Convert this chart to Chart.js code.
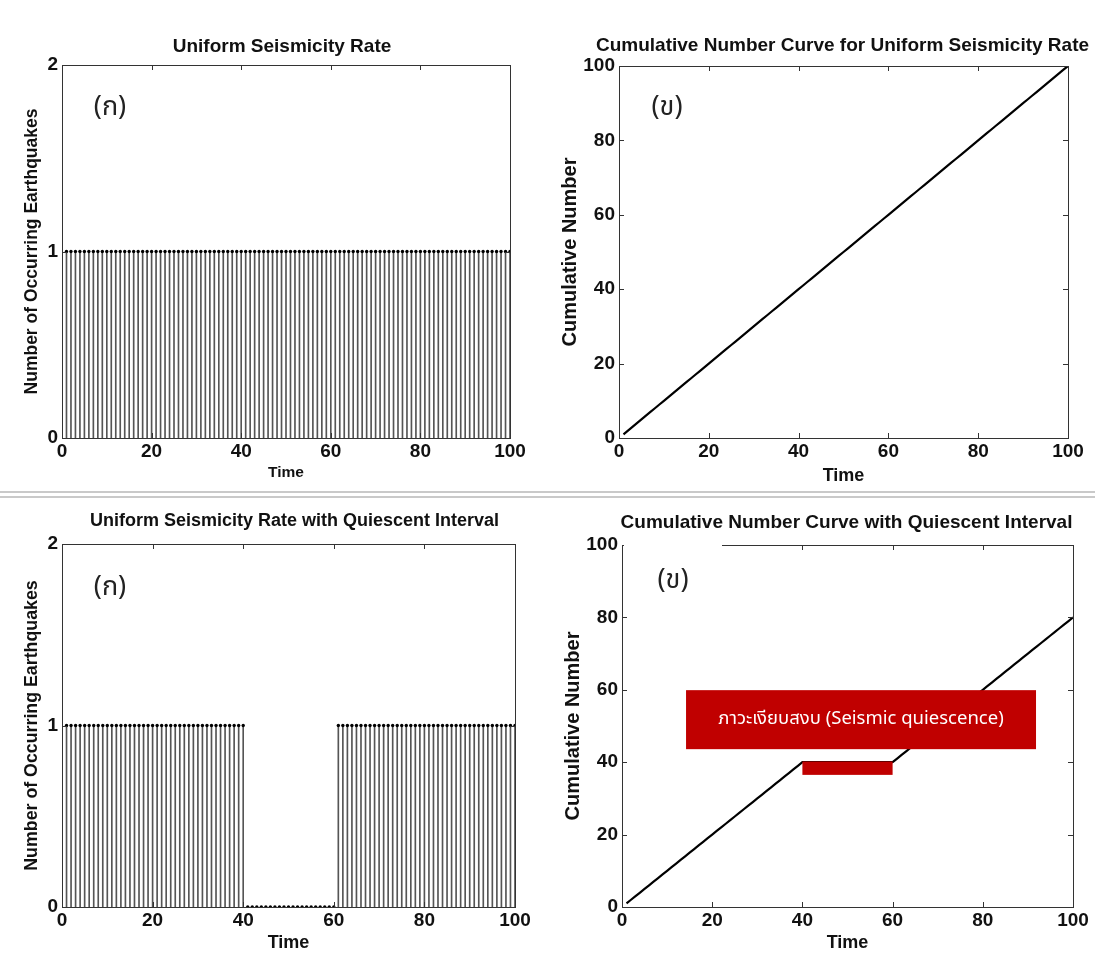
<!DOCTYPE html>
<html>
<head>
<meta charset="utf-8">
<script src="https://cdn.jsdelivr.net/npm/chart.js@4.4.0/dist/chart.umd.min.js"></script>
<style>
  body { margin: 0; background: #fff; width: 1095px; height: 956px; position: relative; overflow: hidden; }
  canvas { position: absolute; }
  .rule { position: absolute; left: 0; width: 1095px; height: 2px; background: #c9c9c9; }
</style>
</head>
<body>
<canvas id="c1"></canvas>
<canvas id="c2"></canvas>
<canvas id="c3"></canvas>
<canvas id="c4"></canvas>
<div class="rule" style="top:491px"></div>
<div class="rule" style="top:496px"></div>
<div style="position:absolute;left:624px;top:541px;width:98px;height:9px;background:#fff"></div>
<script>
// time steps (event index)
const time = [
  1,2,3,4,5,6,7,8,9,10,11,12,13,14,15,16,17,18,19,20,
  21,22,23,24,25,26,27,28,29,30,31,32,33,34,35,36,37,38,39,40,
  41,42,43,44,45,46,47,48,49,50,51,52,53,54,55,56,57,58,59,60,
  61,62,63,64,65,66,67,68,69,70,71,72,73,74,75,76,77,78,79,80,
  81,82,83,84,85,86,87,88,89,90,91,92,93,94,95,96,97,98,99,100
];
// earthquakes per step, uniform rate
const rateUniform = [
  1,1,1,1,1,1,1,1,1,1,1,1,1,1,1,1,1,1,1,1,
  1,1,1,1,1,1,1,1,1,1,1,1,1,1,1,1,1,1,1,1,
  1,1,1,1,1,1,1,1,1,1,1,1,1,1,1,1,1,1,1,1,
  1,1,1,1,1,1,1,1,1,1,1,1,1,1,1,1,1,1,1,1,
  1,1,1,1,1,1,1,1,1,1,1,1,1,1,1,1,1,1,1,1
];
// earthquakes per step, quiet between 40 and 60
const rateQuiet = [
  1,1,1,1,1,1,1,1,1,1,1,1,1,1,1,1,1,1,1,1,
  1,1,1,1,1,1,1,1,1,1,1,1,1,1,1,1,1,1,1,1,
  0,0,0,0,0,0,0,0,0,0,0,0,0,0,0,0,0,0,0,0,
  1,1,1,1,1,1,1,1,1,1,1,1,1,1,1,1,1,1,1,1,
  1,1,1,1,1,1,1,1,1,1,1,1,1,1,1,1,1,1,1,1
];
const cumUniform = [
  1,2,3,4,5,6,7,8,9,10,11,12,13,14,15,16,17,18,19,20,
  21,22,23,24,25,26,27,28,29,30,31,32,33,34,35,36,37,38,39,40,
  41,42,43,44,45,46,47,48,49,50,51,52,53,54,55,56,57,58,59,60,
  61,62,63,64,65,66,67,68,69,70,71,72,73,74,75,76,77,78,79,80,
  81,82,83,84,85,86,87,88,89,90,91,92,93,94,95,96,97,98,99,100
];
const cumQuiet = [
  1,2,3,4,5,6,7,8,9,10,11,12,13,14,15,16,17,18,19,20,
  21,22,23,24,25,26,27,28,29,30,31,32,33,34,35,36,37,38,39,40,
  40,40,40,40,40,40,40,40,40,40,40,40,40,40,40,40,40,40,40,40,
  41,42,43,44,45,46,47,48,49,50,51,52,53,54,55,56,57,58,59,60,
  61,62,63,64,65,66,67,68,69,70,71,72,73,74,75,76,77,78,79,80
];
const xTicks = [0, 20, 40, 60, 80, 100];
const rateTicks = [0, 1, 2];
const cumTicks = [0, 20, 40, 60, 80, 100];

// annotation in the last panel (data units)
const quietBox = { x0: 14.2, x1: 91.8, y0: 43.6, y1: 59.9 };
const quietBar = { x0: 40, x1: 60, y0: 36.5, y1: 40.2 };
const quietLabel = 'ภาวะเงียบสงบ (Seismic quiescence)';

const FONT = '"Liberation Sans", Arial, sans-serif';
const THAI = '"Noto Sans Thai", "Noto Sans", "DejaVu Sans", sans-serif';
const M = { left: 70, top: 50, right: 30, bottom: 60 };

function pts(ys) { return time.map((t, i) => ({ x: t, y: ys[i] })); }

const decor = {
  id: 'decor',
  afterDatasetsDraw(chart, args, o) {
    const { ctx, chartArea: a, scales: { x, y } } = chart;
    ctx.save();
    if (o.note) {
      ctx.fillStyle = '#c00000';
      const bx0 = x.getPixelForValue(quietBox.x0), bx1 = x.getPixelForValue(quietBox.x1);
      const by0 = y.getPixelForValue(quietBox.y0), by1 = y.getPixelForValue(quietBox.y1);
      ctx.fillRect(bx0, by1, bx1 - bx0, by0 - by1);
      const rx0 = x.getPixelForValue(quietBar.x0), rx1 = x.getPixelForValue(quietBar.x1);
      const ry0 = y.getPixelForValue(quietBar.y0), ry1 = y.getPixelForValue(quietBar.y1);
      ctx.fillRect(rx0, ry1, rx1 - rx0, ry0 - ry1);
      ctx.fillStyle = '#fff';
      ctx.font = '18.5px ' + THAI;
      ctx.textAlign = 'center';
      ctx.textBaseline = 'middle';
      ctx.fillText(quietLabel, (bx0 + bx1) / 2, (by0 + by1) / 2 + 1);
    }
    // box + inward ticks
    ctx.strokeStyle = '#333';
    ctx.lineWidth = 1;
    ctx.strokeRect(Math.round(a.left) + 0.5, Math.round(a.top) + 0.5,
      Math.round(a.right - a.left), Math.round(a.bottom - a.top));
    ctx.beginPath();
    x.ticks.forEach(t => {
      const p = Math.round(x.getPixelForValue(t.value)) + 0.5;
      if (p < a.left + 2 || p > a.right - 2) return;
      ctx.moveTo(p, a.bottom); ctx.lineTo(p, a.bottom - 5);
      ctx.moveTo(p, a.top); ctx.lineTo(p, a.top + 5);
    });
    y.ticks.forEach(t => {
      const p = Math.round(y.getPixelForValue(t.value)) + 0.5;
      if (p < a.top + 2 || p > a.bottom - 2) return;
      ctx.moveTo(a.left, p); ctx.lineTo(a.left + 5, p);
      ctx.moveTo(a.right, p); ctx.lineTo(a.right - 5, p);
    });
    ctx.stroke();
    ctx.restore();
  },
  afterDraw(chart, args, o) {
    const { ctx, chartArea: a } = chart;
    ctx.save();
    ctx.fillStyle = '#111';
    ctx.textAlign = 'center';
    ctx.textBaseline = 'middle';
    ctx.font = 'bold ' + o.titleSize + 'px ' + FONT;
    ctx.fillText(o.title, (a.left + a.right) / 2 + o.titleDx, a.top - o.titleGap);
    ctx.font = 'bold ' + o.xSize + 'px ' + FONT;
    ctx.fillText('Time', (a.left + a.right) / 2, a.bottom + o.xGap);
    ctx.save();
    ctx.translate(a.left - o.yGap, (a.top + a.bottom) / 2);
    ctx.rotate(-Math.PI / 2);
    ctx.font = 'bold ' + o.ySize + 'px ' + FONT;
    ctx.fillText(o.yTitle, 0, 0);
    ctx.restore();
    ctx.font = '27px ' + THAI;
    ctx.fillStyle = '#222';
    ctx.fillText(o.tag, a.left + o.tagDx, a.top + o.tagDy);
    ctx.restore();
  }
};

function scales(yMax, yTicks) {
  const tickFont = { family: FONT, size: 19, weight: 'bold' };
  return {
    x: {
      type: 'linear', min: 0, max: 100, offset: false,
      grid: { display: false, drawTicks: false }, border: { display: false },
      afterBuildTicks: s => { s.ticks = xTicks.map(v => ({ value: v })); },
      afterFit: s => { s.height = M.bottom; },
      ticks: { color: '#111', font: tickFont, padding: 2, maxRotation: 0, autoSkip: false }
    },
    y: {
      type: 'linear', min: 0, max: yMax,
      grid: { display: false, drawTicks: false }, border: { display: false },
      afterBuildTicks: s => { s.ticks = yTicks.map(v => ({ value: v })); },
      afterFit: s => { s.width = M.left; },
      ticks: { color: '#111', font: tickFont, padding: 4 }
    }
  };
}

function place(id, area) {
  const c = document.getElementById(id);
  const w = area[2] - area[0] + M.left + M.right;
  const h = area[3] - area[1] + M.top + M.bottom;
  c.width = w; c.height = h;
  c.style.left = (area[0] - M.left) + 'px';
  c.style.top = (area[1] - M.top) + 'px';
  return c;
}

function stemChart(id, area, rate, deco) {
  new Chart(place(id, area), {
    type: 'bar',
    data: {
      datasets: [
        { type: 'scatter', data: pts(rate), pointRadius: 1.7, pointBackgroundColor: '#000', pointBorderWidth: 0, order: 1 },
        { type: 'bar', data: pts(rate), backgroundColor: '#555', barThickness: 1, borderWidth: 0, order: 2 }
      ]
    },
    options: {
      responsive: false, animation: false,
      layout: { padding: { left: 0, top: M.top, right: M.right, bottom: 0 } },
      plugins: { legend: { display: false }, tooltip: { enabled: false }, decor: deco },
      scales: scales(2, rateTicks)
    },
    plugins: [decor]
  });
}

function cumChart(id, area, cum, deco) {
  new Chart(place(id, area), {
    type: 'line',
    data: {
      datasets: [
        { data: pts(cum), borderColor: '#000', borderWidth: 2.2, pointRadius: 0, tension: 0, fill: false }
      ]
    },
    options: {
      responsive: false, animation: false,
      layout: { padding: { left: 0, top: M.top, right: M.right, bottom: 0 } },
      plugins: { legend: { display: false }, tooltip: { enabled: false }, decor: deco },
      scales: scales(100, cumTicks)
    },
    plugins: [decor]
  });
}

stemChart('c1', [62, 65, 510, 438], rateUniform, {
  title: 'Uniform Seismicity Rate', titleSize: 19, titleGap: 18, titleDx: -4,
  xSize: 15.5, xGap: 35, ySize: 17.5, yGap: 30, yTitle: 'Number of Occurring Earthquakes',
  tag: '(ก)', tagDx: 48, tagDy: 45
});
cumChart('c2', [619, 66, 1068, 438], cumUniform, {
  title: 'Cumulative Number Curve for Uniform Seismicity Rate', titleSize: 19, titleGap: 20, titleDx: -1,
  xSize: 18, xGap: 38, ySize: 20, yGap: 49, yTitle: 'Cumulative Number',
  tag: '(ข)', tagDx: 48, tagDy: 44
});
stemChart('c3', [62, 544, 515, 907], rateQuiet, {
  title: 'Uniform Seismicity Rate with Quiescent Interval', titleSize: 18, titleGap: 23, titleDx: 6,
  xSize: 18, xGap: 36, ySize: 17.8, yGap: 30, yTitle: 'Number of Occurring Earthquakes',
  tag: '(ก)', tagDx: 48, tagDy: 46
});
cumChart('c4', [622, 545, 1073, 907], cumQuiet, {
  title: 'Cumulative Number Curve with Quiescent Interval', titleSize: 19, titleGap: 22, titleDx: -1,
  xSize: 18, xGap: 36, ySize: 20, yGap: 49, yTitle: 'Cumulative Number',
  tag: '(ข)', tagDx: 51, tagDy: 38, note: true
});
</script>
</body>
</html>
